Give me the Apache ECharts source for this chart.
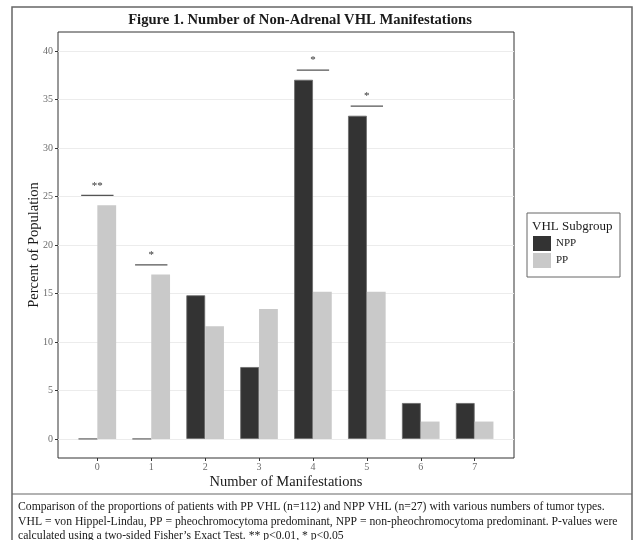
<!DOCTYPE html>
<html>
<head>
<meta charset="utf-8">
<script src="https://cdn.jsdelivr.net/npm/echarts@6/dist/echarts.min.js"></script>
<style>
  html, body { margin: 0; padding: 0; background: #fff; }
  #chart { width: 634px; height: 540px; }
</style>
</head>
<body>
<div id="chart"></div>
<script>
// Number of non-adrenal manifestations (0..7) per VHL subgroup, percent of patients
const categories = [0, 1, 2, 3, 4, 5, 6, 7];
const nppValues = [0, 0, 14.81, 7.41, 37.04, 33.33, 3.70, 3.70];   // NPP, n = 27
const ppValues  = [24.11, 16.96, 11.61, 13.39, 15.18, 15.18, 1.79, 1.79]; // PP, n = 112
const yTicks = [0, 5, 10, 15, 20, 25, 30, 35, 40];

// Fisher's exact test significance marks
const sigCategories = [0, 1, 4, 5];
const sigLabels = ['**', '*', '*', '*'];

const serif = '"Liberation Serif", "Times New Roman", serif';

const chart = echarts.init(document.getElementById('chart'), null, { renderer: 'canvas' });

const sigData = sigCategories.map((c, i) => [c, Math.max(nppValues[c], ppValues[c]) + 1, i]);

chart.setOption({
  animation: false,
  backgroundColor: '#ffffff',
  title: {
    text: 'Figure 1. Number of Non-Adrenal VHL Manifestations',
    left: 295, top: 8, textAlign: 'center',
    textStyle: { fontFamily: serif, fontWeight: 'bold', fontSize: 14.6, color: '#1a1a1a' }
  },
  grid: {
    left: 58, top: 32, width: 456, height: 426,
    show: true, borderColor: '#333', borderWidth: 1, backgroundColor: 'transparent'
  },
  legend: {
    orient: 'vertical',
    left: 528, top: 231,
    itemWidth: 18, itemHeight: 15, itemGap: 2,
    icon: 'rect',
    itemStyle: { borderWidth: 0 },
    textStyle: { fontFamily: serif, fontSize: 11, color: '#1a1a1a' },
    data: ['NPP', 'PP']
  },
  xAxis: {
    type: 'value',
    min: -0.73, max: 7.73,
    name: 'Number of Manifestations',
    nameLocation: 'middle', nameGap: 17, nameMoveOverlap: false,
    nameTextStyle: { fontFamily: serif, fontSize: 14.5, color: '#1a1a1a' },
    axisLine: { show: false, onZero: false },
    axisTick: { show: true, length: 3, customValues: categories, lineStyle: { color: '#333' } },
    axisLabel: { customValues: categories, fontFamily: serif, fontSize: 10, color: '#6b6b6b', margin: 4 },
    splitLine: { show: false }
  },
  yAxis: {
    type: 'value',
    min: -1.97, max: 41.97,
    name: 'Percent of Population',
    nameLocation: 'middle', nameGap: 16, nameMoveOverlap: false,
    nameTextStyle: { fontFamily: serif, fontSize: 14.5, color: '#1a1a1a' },
    axisLine: { show: false, onZero: false },
    axisTick: { show: true, length: 3, customValues: yTicks, lineStyle: { color: '#333' } },
    axisLabel: { customValues: yTicks, fontFamily: serif, fontSize: 10, color: '#6b6b6b', margin: 5 },
    splitLine: { show: true, lineStyle: { color: '#ececec', width: 1 } }
  },
  series: [
    {
      name: 'NPP', type: 'bar',
      barWidth: 18.8, barGap: '0%',
      itemStyle: { color: '#333333', borderColor: '#6a6a6a', borderWidth: 0.8 },
      data: categories.map((c, i) => [c, nppValues[i]])
    },
    {
      name: 'PP', type: 'bar',
      barWidth: 18.8, barGap: '0%',
      itemStyle: { color: '#c9c9c9' },
      data: categories.map((c, i) => [c, ppValues[i]])
    },
    {
      name: 'sig', type: 'custom',
      silent: true,
      data: sigData,
      renderItem: function (params, api) {
        const c = api.value(0), h = api.value(1), idx = api.value(2);
        const p1 = api.coord([c - 0.3, h]);
        const p2 = api.coord([c + 0.3, h]);
        return {
          type: 'group',
          children: [
            {
              type: 'line',
              shape: { x1: p1[0], y1: p1[1], x2: p2[0], y2: p2[1] },
              style: { stroke: '#555', lineWidth: 1.2 }
            },
            {
              type: 'text',
              style: {
                text: sigLabels[idx],
                x: (p1[0] + p2[0]) / 2, y: p1[1] - 4,
                align: 'center', verticalAlign: 'bottom',
                font: '11px ' + serif, fill: '#333'
              }
            }
          ]
        };
      }
    }
  ],
  graphic: [
    // outer figure frame and caption divider
    { type: 'rect', shape: { x: 12, y: 7, width: 620, height: 545 }, style: { fill: 'none', stroke: '#666', lineWidth: 1.5 }, z: -1 },
    { type: 'line', shape: { x1: 12, y1: 494, x2: 632, y2: 494 }, style: { stroke: '#666', lineWidth: 1.2 } },
    // legend box and title
    { type: 'rect', shape: { x: 527, y: 213, width: 93, height: 64 }, style: { fill: 'none', stroke: '#666', lineWidth: 1 } },
    { type: 'text', left: 532, top: 220, style: { text: 'VHL Subgroup', font: '13px ' + serif, fill: '#1a1a1a' } },
    // caption
    {
      type: 'text', left: 18, top: 500,
      style: {
        text: 'Comparison of the proportions of patients with PP VHL (n=112) and NPP VHL (n=27) with various numbers of tumor types.\n' +
              'VHL = von Hippel-Lindau, PP = pheochromocytoma predominant, NPP = non-pheochromocytoma predominant. P-values were\n' +
              'calculated using a two-sided Fisher\u2019s Exact Test. ** p<0.01, * p<0.05',
        font: '11.7px ' + serif, lineHeight: 14.5, fill: '#1a1a1a'
      }
    }
  ]
});
</script>
</body>
</html>
